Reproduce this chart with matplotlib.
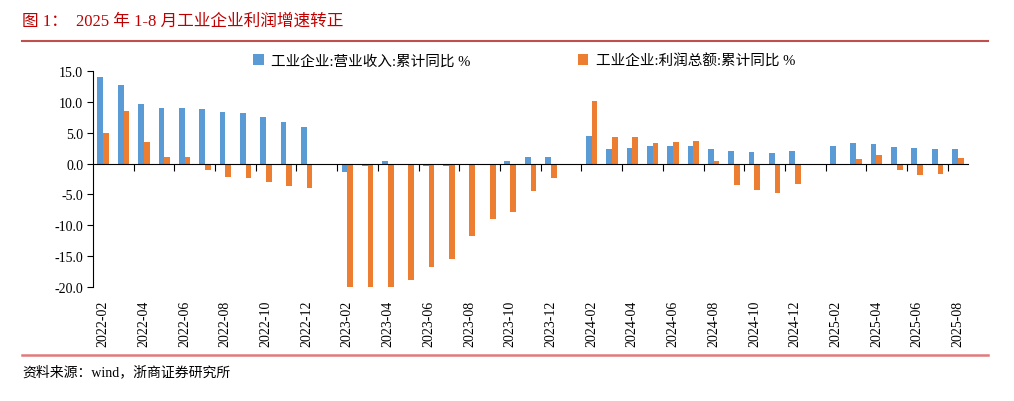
import matplotlib.pyplot as plt
from matplotlib.lines import Line2D
import numpy as np

plt.rcParams['font.family'] = ['Liberation Serif', 'Noto Sans CJK SC']
plt.rcParams['axes.unicode_minus'] = False

months = ['2022-02', '2022-03', '2022-04', '2022-05', '2022-06', '2022-07', '2022-08',
          '2022-09', '2022-10', '2022-11', '2022-12',
          '2023-02', '2023-03', '2023-04', '2023-05', '2023-06', '2023-07', '2023-08',
          '2023-09', '2023-10', '2023-11', '2023-12',
          '2024-02', '2024-03', '2024-04', '2024-05', '2024-06', '2024-07', '2024-08',
          '2024-09', '2024-10', '2024-11', '2024-12',
          '2025-02', '2025-03', '2025-04', '2025-05', '2025-06', '2025-07', '2025-08']
revenue = [14.0, 12.7, 9.7, 9.1, 9.1, 8.8, 8.4, 8.2, 7.6, 6.7, 5.9,
           -1.3, -0.4, 0.5, 0.0, -0.4, -0.4, -0.2, 0.0, 0.4, 1.0, 1.1,
           4.4, 2.3, 2.6, 2.9, 2.9, 2.9, 2.4, 2.1, 1.9, 1.8, 2.1,
           2.8, 3.4, 3.2, 2.7, 2.5, 2.3, 2.3]
profit = [5.0, 8.5, 3.5, 1.0, 1.0, -1.1, -2.1, -2.3, -3.0, -3.6, -4.0,
          -22.9, -21.4, -20.6, -18.8, -16.8, -15.5, -11.7, -9.0, -7.8, -4.4, -2.3,
          10.2, 4.3, 4.3, 3.4, 3.5, 3.6, 0.5, -3.5, -4.3, -4.7, -3.3,
          -0.3, 0.8, 1.4, -1.1, -1.8, -1.7, 0.9]
series_names = ['工业企业:营业收入:累计同比 %', '工业企业:利润总额:累计同比 %']

# date-axis position: January is an empty slot
idx = np.array([(int(m[:4]) - 2022) * 12 + int(m[5:]) - 2 for m in months])

fig = plt.figure(figsize=(10.14, 4.02), dpi=100)
ax = fig.add_axes([0.0917, 0.2836, 0.863, 0.537])

w = 0.28
ax.bar(idx - w / 2, revenue, w, color='#5B9BD5', label=series_names[0])
ax.bar(idx + w / 2, profit, w, color='#ED7D31', label=series_names[1])

ax.set_xlim(-0.5, idx.max() + 0.5)
ax.set_ylim(-20, 15)
ax.set_yticks(np.arange(-20, 15.1, 5))
ax.yaxis.set_major_formatter('{x:.1f}')
ax.tick_params(axis='y', labelsize=10, length=4, pad=3)

for s in ['top', 'right']:
    ax.spines[s].set_visible(False)
ax.spines['bottom'].set_position(('data', 0))
ax.set_xticks(np.arange(1.5, idx.max(), 2))
ax.tick_params(axis='x', length=5, labelbottom=False)

lab_pos = [i for i, m in zip(idx, months) if int(m[5:]) % 2 == 0]
lab_txt = [m for m in months if int(m[5:]) % 2 == 0]
sec = ax.secondary_xaxis('bottom')
sec.set_xticks(lab_pos, lab_txt, rotation=90)
sec.tick_params(length=0, pad=9, labelsize=10)
sec.spines['bottom'].set_visible(False)

fig.legend(loc='center', bbox_to_anchor=(0.517, 0.847), ncol=2, frameon=False,
           handlelength=0.7, handleheight=0.7, handletextpad=0.5,
           columnspacing=7.4, fontsize=10.5)

fig.text(22 / 1014, 1 - 22 / 402, '图 1：  2025 年 1-8 月工业企业利润增速转正',
         color='#C00000', fontsize=12, va='center')
fig.add_artist(Line2D([22 / 1014, 988 / 1014], [1 - 41.5 / 402] * 2,
                      color='#C0504D', lw=1.5))
fig.add_artist(Line2D([22 / 1014, 988 / 1014], [1 - 356 / 402] * 2,
                      color='#E07B7B', lw=1.8))
fig.text(22 / 1014, 1 - 372 / 402, '资料来源：wind，浙商证券研究所',
         fontsize=10, va='center')

fig.savefig('out.png', dpi=100)
